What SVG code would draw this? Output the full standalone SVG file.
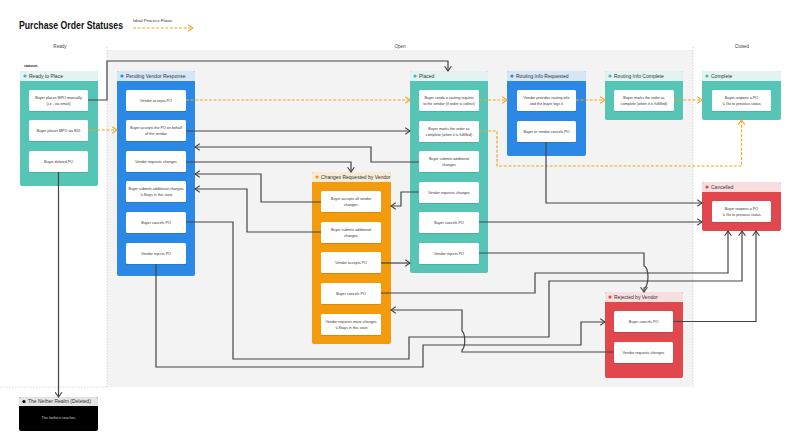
<svg xmlns="http://www.w3.org/2000/svg" width="800" height="445" viewBox="0 0 800 445">
<style>
text{font-family:"Liberation Sans",Arial,sans-serif;}
.title{font-size:10px;font-weight:bold;fill:#111;}
.lane{font-size:4.6px;fill:#444;text-anchor:middle;}
.legend{font-size:4.4px;fill:#333;}
.hdr{font-size:5px;fill:#333;}
.ct{font-size:3.7px;fill:#333;text-anchor:middle;}
.card{fill:#fff;filter:url(#sh);}
.conn{fill:none;stroke:#444;stroke-width:1.2;marker-end:url(#ah);}
.ideal{fill:none;stroke:#f5a623;stroke-width:1.2;stroke-dasharray:3 1.6;marker-end:url(#ao);}
.teal{fill:#56c5b5;} .tealh{fill:#e3f3f1;} .teald{fill:#3fbfad;}
.blue{fill:#2b88e4;} .blueh{fill:#d7e6f5;} .blued{fill:#2b88e4;}
.orng{fill:#f29b0c;} .orngh{fill:#f7ebd7;} .orngd{fill:#f29b0c;}
.red{fill:#e1484e;} .redh{fill:#f8dedf;} .redd{fill:#e1484e;}
.sep{stroke:#cfcfcf;stroke-width:0.8;stroke-dasharray:1.5 1.5;fill:none;}
</style>
<defs>
<filter id="sh" x="-10%" y="-20%" width="120%" height="150%"><feDropShadow dx="0" dy="0.6" stdDeviation="0.5" flood-color="#000" flood-opacity="0.18"/></filter>
<marker id="ah" viewBox="0 0 6 8" refX="5.4" refY="4" markerWidth="6" markerHeight="8" markerUnits="userSpaceOnUse" orient="auto"><path d="M0.6,0.6 L5.4,4 L0.6,7.4" fill="none" stroke="#444" stroke-width="1.1"/></marker>
<marker id="ao" viewBox="0 0 6 8" refX="5.4" refY="4" markerWidth="6" markerHeight="8" markerUnits="userSpaceOnUse" orient="auto"><path d="M0.6,0.6 L5.4,4 L0.6,7.4" fill="none" stroke="#f5a623" stroke-width="1.1"/></marker>
</defs>
<rect width="800" height="445" fill="#fff"/>
<g id="background">
<rect x="107" y="50" width="586" height="337" fill="#f3f3f3"/>
<path class="sep" d="M107,47 V387 M693,47 V387 M0,387 H107"/>
<text class="lane" x="60" y="48">Ready</text>
<text class="lane" x="400" y="47.5">Open</text>
<text class="lane" x="742" y="47.5">Closed</text>
<text x="24" y="66.5" style="font-size:3.4px;font-weight:bold;fill:#222">statuses</text>
</g>
<g id="title">
<text class="title" x="19" y="29" textLength="104" lengthAdjust="spacingAndGlyphs">Purchase Order Statuses</text>
<text class="legend" x="133" y="21.5">Ideal Process Flows</text>
<path class="ideal" d="M133,28 H193"/>
</g>

<g id="node-ready">
<rect class="teal" x="20" y="71" width="78" height="115" rx="2"/>
<path class="tealh" d="M20,81 V73 Q20,71 22,71 H96 Q98,71 98,73 V81 Z"/>
<circle class="teald" cx="25" cy="76" r="1.6"/>
<text class="hdr" x="29" y="77.8">Ready to Place</text>
<rect class="card" x="29" y="90" width="59" height="21" rx="1.5"/>
<text class="ct" x="58.5" y="99.3">Buyer places MPO manually</text>
<text class="ct" x="58.5" y="104.5">(i.e., via email)</text>
<rect class="card" x="29" y="120" width="59" height="21" rx="1.5"/>
<text class="ct" x="58.5" y="131.8">Buyer places MPO via EDI</text>
<rect class="card" x="29" y="151" width="59" height="21" rx="1.5"/>
<text class="ct" x="58.5" y="162.8">Buyer deleted PO</text>
</g>

<g id="node-pending">
<rect class="blue" x="117" y="71" width="78" height="205" rx="2"/>
<path class="blueh" d="M117,81 V73 Q117,71 119,71 H193 Q195,71 195,73 V81 Z"/>
<circle class="blued" cx="122" cy="76" r="1.6"/>
<text class="hdr" x="126" y="77.8">Pending Vendor Response</text>
<rect class="card" x="126" y="90" width="60" height="21" rx="1.5"/>
<text class="ct" x="156" y="101.8">Vendor accepts PO</text>
<rect class="card" x="126" y="120" width="60" height="21" rx="1.5"/>
<text class="ct" x="156" y="129.3">Buyer accepts the PO on behalf</text>
<text class="ct" x="156" y="134.5">of the vendor</text>
<rect class="card" x="126" y="151" width="60" height="21" rx="1.5"/>
<text class="ct" x="156" y="162.8">Vendor requests changes</text>
<rect class="card" x="126" y="181" width="60" height="21" rx="1.5"/>
<text class="ct" x="156" y="190.3">Buyer submits additional changes</text>
<text class="ct" x="156" y="195.5">↳ Stays in this state</text>
<rect class="card" x="126" y="212" width="60" height="21" rx="1.5"/>
<text class="ct" x="156" y="223.8">Buyer cancels PO</text>
<rect class="card" x="126" y="243" width="60" height="21" rx="1.5"/>
<text class="ct" x="156" y="254.8">Vendor rejects PO</text>
</g>

<g id="node-changes">
<rect class="orng" x="312" y="172" width="79" height="172" rx="2"/>
<path class="orngh" d="M312,182 V174 Q312,172 314,172 H389 Q391,172 391,174 V182 Z"/>
<circle class="orngd" cx="317" cy="177" r="1.6"/>
<text class="hdr" x="321" y="178.8">Changes Requested by Vendor</text>
<rect class="card" x="321" y="191" width="60" height="21" rx="1.5"/>
<text class="ct" x="351" y="200.3">Buyer accepts all vendor</text>
<text class="ct" x="351" y="205.5">changes</text>
<rect class="card" x="321" y="222" width="60" height="21" rx="1.5"/>
<text class="ct" x="351" y="231.3">Buyer submits additional</text>
<text class="ct" x="351" y="236.5">changes</text>
<rect class="card" x="321" y="252" width="60" height="21" rx="1.5"/>
<text class="ct" x="351" y="263.8">Vendor accepts PO</text>
<rect class="card" x="321" y="283" width="60" height="21" rx="1.5"/>
<text class="ct" x="351" y="294.8">Buyer cancels PO</text>
<rect class="card" x="321" y="314" width="60" height="21" rx="1.5"/>
<text class="ct" x="351" y="323.3">Vendor requests more changes</text>
<text class="ct" x="351" y="328.5">↳ Stays in this state</text>
</g>

<g id="node-placed">
<rect class="teal" x="410" y="71" width="78" height="202" rx="2"/>
<path class="tealh" d="M410,81 V73 Q410,71 412,71 H486 Q488,71 488,73 V81 Z"/>
<circle class="teald" cx="415" cy="76" r="1.6"/>
<text class="hdr" x="419" y="77.8">Placed</text>
<rect class="card" x="419" y="90" width="60" height="21" rx="1.5"/>
<text class="ct" x="449" y="99.3">Buyer sends a routing request</text>
<text class="ct" x="449" y="104.5">to the vendor (if order is collect)</text>
<rect class="card" x="419" y="121" width="60" height="21" rx="1.5"/>
<text class="ct" x="449" y="130.3">Buyer marks the order as</text>
<text class="ct" x="449" y="135.5">complete (when it is fulfilled)</text>
<rect class="card" x="419" y="151" width="60" height="21" rx="1.5"/>
<text class="ct" x="449" y="160.3">Buyer submits additional</text>
<text class="ct" x="449" y="165.5">changes</text>
<rect class="card" x="419" y="182" width="60" height="21" rx="1.5"/>
<text class="ct" x="449" y="193.8">Vendor requests changes</text>
<rect class="card" x="419" y="212" width="60" height="21" rx="1.5"/>
<text class="ct" x="449" y="223.8">Buyer cancels PO</text>
<rect class="card" x="419" y="243" width="60" height="21" rx="1.5"/>
<text class="ct" x="449" y="254.8">Vendor rejects PO</text>
</g>

<g id="node-routing-requested">
<rect class="blue" x="507" y="71" width="79" height="85" rx="2"/>
<path class="blueh" d="M507,81 V73 Q507,71 509,71 H584 Q586,71 586,73 V81 Z"/>
<circle class="blued" cx="512" cy="76" r="1.6"/>
<text class="hdr" x="516" y="77.8">Routing Info Requested</text>
<rect class="card" x="517" y="90" width="59" height="21" rx="1.5"/>
<text class="ct" x="546.5" y="99.3">Vendor provides routing info</text>
<text class="ct" x="546.5" y="104.5">and the buyer logs it</text>
<rect class="card" x="517" y="121" width="59" height="21" rx="1.5"/>
<text class="ct" x="546.5" y="132.8">Buyer or vendor cancels PO</text>
</g>

<g id="node-routing-complete">
<rect class="teal" x="605" y="71" width="78" height="49" rx="2"/>
<path class="tealh" d="M605,81 V73 Q605,71 607,71 H681 Q683,71 683,73 V81 Z"/>
<circle class="teald" cx="610" cy="76" r="1.6"/>
<text class="hdr" x="614" y="77.8">Routing Info Complete</text>
<rect class="card" x="614" y="90" width="60" height="21" rx="1.5"/>
<text class="ct" x="644" y="99.3">Buyer marks the order as</text>
<text class="ct" x="644" y="104.5">complete (when it is fulfilled)</text>
</g>

<g id="node-complete">
<rect class="teal" x="702" y="71" width="79" height="49" rx="2"/>
<path class="tealh" d="M702,81 V73 Q702,71 704,71 H779 Q781,71 781,73 V81 Z"/>
<circle class="teald" cx="707" cy="76" r="1.6"/>
<text class="hdr" x="711" y="77.8">Complete</text>
<rect class="card" x="712" y="90" width="59" height="21" rx="1.5"/>
<text class="ct" x="741.5" y="99.3">Buyer reopens a PO</text>
<text class="ct" x="741.5" y="104.5">↳ Go to previous status</text>
</g>

<g id="node-cancelled">
<rect class="red" x="702" y="182" width="79" height="49" rx="2"/>
<path class="redh" d="M702,192 V184 Q702,182 704,182 H779 Q781,182 781,184 V192 Z"/>
<circle class="redd" cx="707" cy="187" r="1.6"/>
<text class="hdr" x="711" y="188.8">Cancelled</text>
<rect class="card" x="712" y="201" width="59" height="21" rx="1.5"/>
<text class="ct" x="741.5" y="210.3">Buyer reopens a PO</text>
<text class="ct" x="741.5" y="215.5">↳ Go to previous status</text>
</g>

<g id="node-rejected">
<rect class="red" x="605" y="292" width="78" height="86" rx="2"/>
<path class="redh" d="M605,302 V294 Q605,292 607,292 H681 Q683,292 683,294 V302 Z"/>
<circle class="redd" cx="610" cy="297" r="1.6"/>
<text class="hdr" x="614" y="298.8">Rejected by Vendor</text>
<rect class="card" x="614" y="311" width="59" height="21" rx="1.5"/>
<text class="ct" x="643.5" y="322.8">Buyer cancels PO</text>
<rect class="card" x="614" y="342" width="59" height="21" rx="1.5"/>
<text class="ct" x="643.5" y="353.8">Vendor requests changes</text>
</g>

<g id="node-nether">
<rect x="19" y="397" width="79" height="34" rx="2" fill="#000"/>
<path d="M19,406 V399 Q19,397 21,397 H96 Q98,397 98,399 V406 Z" fill="#e4e4e4"/>
<circle cx="24" cy="401.5" r="1.6" fill="#000"/>
<text class="hdr" x="28" y="403.3">The Nether Realm (Deleted)</text>
<text class="ct" x="58.5" y="418.5" style="fill:#ccc">The farthest reaches</text>
</g>

<g id="connectors">
<path class="ideal" d="M88,130 H117"/>
<path class="ideal" d="M186,100 H410"/>
<path class="ideal" d="M479,100 H507"/>
<path class="ideal" d="M576,100 H605"/>
<path class="ideal" d="M674,100 H702"/>
<path class="ideal" d="M479,131 H497 V166 H741.5 V120"/>

<path class="conn" d="M88,100 H107 V61 H448 V71"/>
<path class="conn" d="M58.5,172 V397"/>
<path class="conn" d="M186,131 H410"/>
<path class="conn" d="M419,162 H371 V147 H195"/>
<path class="conn" d="M186,162 H351 V172"/>
<path class="conn" d="M321,202 H261 V174 H195"/>
<path class="conn" d="M321,232 H247 V189 H195"/>
<path class="conn" d="M419,192 H401 V206 H391"/>
<path class="conn" d="M381,263 H410"/>
<path class="conn" d="M186,222 H233 V359 H409 V337 H549 V281 H742 V231"/>
<path class="conn" d="M156,264 V367 H423 V345 H581 V322 H605"/>
<path class="conn" d="M381,293 H535 V273 H728 V231"/>
<path class="conn" d="M479,222 H702"/>
<path class="conn" d="M479,253 H644 V266 A4,11 0 0 1 644,288 V292"/>
<path class="conn" d="M546,142 V203 H702"/>
<path class="conn" d="M673,321.5 H756 V231"/>
<path class="conn" d="M614,352 H462 V350 A4,10 0 0 0 462,331 V310 H391"/>
</g>
</svg>
